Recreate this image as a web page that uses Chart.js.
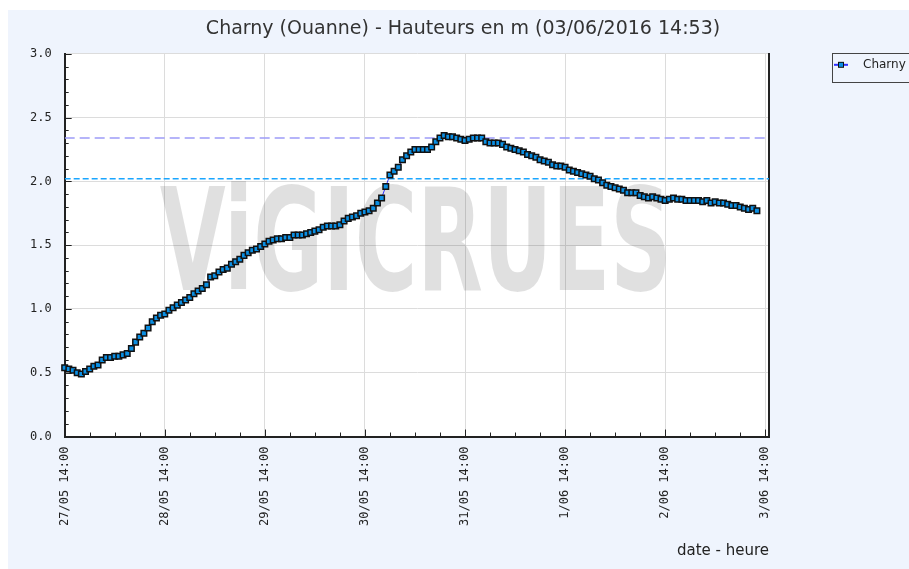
<!DOCTYPE html>
<html>
<head>
<meta charset="utf-8">
<script src="https://cdn.jsdelivr.net/npm/chart.js@4.4.0/dist/chart.umd.min.js"></script>
<style>
  html, body { margin: 0; padding: 0; background: #fff; }
  #frame { position: absolute; left: 8px; top: 10px; width: 901px; height: 559px; background: #eff4fd; overflow: hidden; }
</style>
</head>
<body>
<div id="frame"><canvas id="chart" width="901" height="559"></canvas></div>
<script>
const stationName = 'Charny';
const chartTitle = 'Charny (Ouanne) - Hauteurs en m (03/06/2016 14:53)';
const axisTitle = 'date - heure';

// one tick label per day, every 24 h from 27/05 14:00
const dayLabels = ['27/05 14:00', '28/05 14:00', '29/05 14:00', '30/05 14:00',
                   '31/05 14:00', '1/06 14:00', '2/06 14:00', '3/06 14:00'];

// hourly water heights (m), first reading 27/05 14:00
const heights = [
    0.54, 0.53, 0.52, 0.50, 0.49, 0.51, 0.53, 0.55, 0.56, 0.60, 0.62, 0.62,
    0.63, 0.63, 0.64, 0.65, 0.69, 0.74, 0.78, 0.81, 0.85, 0.90, 0.93, 0.95,
    0.96, 0.99, 1.01, 1.03, 1.05, 1.07, 1.09, 1.12, 1.14, 1.16, 1.19, 1.25,
    1.26, 1.29, 1.31, 1.32, 1.35, 1.37, 1.39, 1.42, 1.44, 1.46, 1.47, 1.49,
    1.51, 1.53, 1.54, 1.55, 1.55, 1.56, 1.56, 1.58, 1.58, 1.58, 1.59, 1.60,
    1.61, 1.62, 1.64, 1.65, 1.65, 1.65, 1.66, 1.69, 1.71, 1.72, 1.73, 1.75,
    1.76, 1.77, 1.79, 1.83, 1.87, 1.96, 2.05, 2.08, 2.11, 2.17, 2.20, 2.23,
    2.25, 2.25, 2.25, 2.25, 2.27, 2.31, 2.34, 2.36, 2.35, 2.35, 2.34, 2.33,
    2.32, 2.33, 2.34, 2.34, 2.34, 2.31, 2.30, 2.30, 2.30, 2.29, 2.27, 2.26,
    2.25, 2.24, 2.23, 2.21, 2.20, 2.19, 2.17, 2.16, 2.15, 2.13, 2.12, 2.12,
    2.11, 2.09, 2.08, 2.07, 2.06, 2.05, 2.04, 2.02, 2.01, 1.99, 1.97, 1.96,
    1.95, 1.94, 1.93, 1.91, 1.91, 1.91, 1.89, 1.88, 1.87, 1.88, 1.87, 1.86,
    1.85, 1.86, 1.87, 1.86, 1.86, 1.85, 1.85, 1.85, 1.85, 1.84, 1.85, 1.83,
    1.84, 1.83, 1.83, 1.82, 1.81, 1.81, 1.80, 1.79, 1.78, 1.79, 1.77
];

// dashed alert levels (m)
const alertLevels = [2.34, 2.02];
const alertColors = ['#9d9cf7', '#1aa6ff'];

const xMax = 168.9;
const tickHours = [];
for (let h = 0; h <= 168; h += 6) tickHours.push(h);

const isDay = v => v % 24 === 0;
const isHalf = v => Math.abs(v * 2 - Math.round(v * 2)) < 1e-6;

const monoFont = { family: 'DejaVu Sans Mono', size: 12 };

// legend marker: line with a square
const legendIcon = document.createElement('canvas');
legendIcon.width = 23;
legendIcon.height = 10;
const ic = legendIcon.getContext('2d');
ic.strokeStyle = '#2f2fff';
ic.lineWidth = 2;
ic.beginPath();
ic.moveTo(0, 5);
ic.lineTo(14, 5);
ic.stroke();
ic.fillStyle = '#0b8fe3';
ic.fillRect(4, 2, 6, 6);
ic.strokeStyle = '#111';
ic.lineWidth = 1;
ic.strokeRect(4.5, 2.5, 5, 5);

const decorations = {
    id: 'decorations',
    beforeDraw(chart) {
        const { ctx, chartArea: a } = chart;
        ctx.save();
        ctx.fillStyle = '#ffffff';
        ctx.fillRect(a.left, a.top, a.right - a.left, a.bottom - a.top);
        ctx.restore();
    },
    beforeDatasetsDraw(chart) {
        const { ctx, chartArea: a, scales: { x, y } } = chart;

        // watermark
        ctx.save();
        ctx.font = "bold 142px 'DejaVu Sans Condensed', 'DejaVu Sans'";
        ctx.fillStyle = 'rgba(0, 0, 0, 0.12)';
        ctx.textBaseline = 'alphabetic';
        const w = ctx.measureText('ViGICRUES').width;
        ctx.translate(a.left + 95, a.top + 236);
        ctx.scale(512 / w, 1);
        ctx.fillText('ViGICRUES', 0, 0);
        ctx.restore();

        // inner tick marks
        ctx.save();
        ctx.strokeStyle = '#222';
        ctx.lineWidth = 1;
        ctx.beginPath();
        x.ticks.forEach(t => {
            const px = Math.round(x.getPixelForValue(t.value)) + 0.5;
            const len = isDay(t.value) ? 7 : 4;
            ctx.moveTo(px, a.bottom);
            ctx.lineTo(px, a.bottom - len);
        });
        y.ticks.forEach(t => {
            const py = Math.round(y.getPixelForValue(t.value)) + 0.5;
            const len = isHalf(t.value) ? 7 : 4;
            ctx.moveTo(a.left, py);
            ctx.lineTo(a.left + len, py);
        });
        ctx.stroke();
        ctx.restore();
    },
    afterDraw(chart) {
        const { ctx, chartArea: a, legend } = chart;
        ctx.save();
        ctx.strokeStyle = '#444';
        ctx.lineWidth = 1;
        ctx.strokeRect(Math.round(legend.left) + 3.5, Math.round(a.top) - 0.5, 200, 29);
        ctx.restore();
    }
};

const datasets = [{
    label: stationName,
    data: heights.map((h, i) => ({ x: i, y: h })),
    borderColor: '#2f2fff',
    borderWidth: 1,
    pointStyle: 'rect',
    pointRadius: 3.9,
    pointBackgroundColor: '#0b8fe3',
    pointBorderColor: '#111',
    pointBorderWidth: 1.5,
    clip: false
}];

alertLevels.forEach((level, k) => {
    datasets.push({
        label: 'seuil ' + (k + 1),
        data: [{ x: 0, y: level }, { x: xMax, y: level }],
        borderColor: alertColors[k],
        borderWidth: 1.5,
        borderDash: k === 0 ? [10, 5] : [6, 3],
        pointRadius: 0
    });
});

new Chart(document.getElementById('chart'), {
    type: 'line',
    data: { datasets: datasets },
    options: {
        responsive: false,
        animation: false,
        layout: { padding: { left: 9, bottom: 6, top: 0, right: 0 } },
        plugins: {
            title: {
                display: true,
                text: chartTitle,
                color: '#333',
                font: { family: 'DejaVu Sans', size: 19, weight: 'normal' },
                padding: { top: 8, bottom: 13 }
            },
            legend: {
                position: 'right',
                align: 'start',
                fullSize: false,
                maxWidth: 80,
                labels: {
                    usePointStyle: true,
                    pointStyle: legendIcon,
                    pointStyleWidth: 23,
                    padding: 5,
                    color: '#222',
                    font: { family: 'DejaVu Sans', size: 12 },
                    filter: item => item.datasetIndex === 0
                }
            },
            tooltip: { enabled: false }
        },
        scales: {
            x: {
                type: 'linear',
                min: 0,
                max: xMax,
                afterBuildTicks: s => { s.ticks = tickHours.map(v => ({ value: v })); },
                ticks: {
                    autoSkip: false,
                    minRotation: 90,
                    maxRotation: 90,
                    padding: 10,
                    color: '#222',
                    font: monoFont,
                    callback: v => isDay(v) ? dayLabels[v / 24] : ''
                },
                grid: {
                    drawTicks: false,
                    color: c => c.tick && isDay(c.tick.value) ? '#dcdcdc' : 'rgba(0,0,0,0)'
                },
                border: { color: '#222', width: 2 },
                title: {
                    display: true,
                    text: axisTitle,
                    align: 'end',
                    color: '#222',
                    font: { family: 'DejaVu Sans', size: 15 },
                    padding: { top: 6, bottom: 3 }
                }
            },
            y: {
                min: 0,
                max: 3,
                ticks: {
                    stepSize: 0.1,
                    autoSkip: false,
                    padding: 13,
                    color: '#222',
                    font: monoFont,
                    callback: v => isHalf(v) ? v.toFixed(1) : ''
                },
                grid: {
                    drawTicks: false,
                    color: c => c.tick && isHalf(c.tick.value) ? '#dcdcdc' : 'rgba(0,0,0,0)'
                },
                border: { color: '#222', width: 2 }
            },
            y2: {
                position: 'right',
                min: 0,
                max: 3,
                ticks: { display: false },
                grid: { drawOnChartArea: false, drawTicks: false },
                border: { color: '#222', width: 2 },
                afterFit: s => { s.width = 60; }
            }
        }
    },
    plugins: [decorations]
});
</script>
</body>
</html>
